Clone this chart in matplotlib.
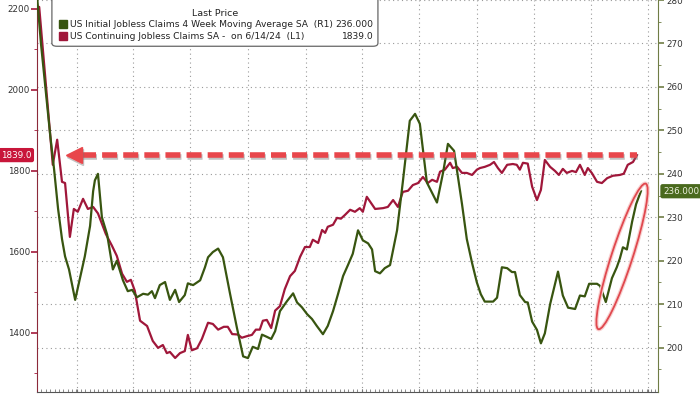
import numpy as np
import pandas as pd
import matplotlib
matplotlib.use('Agg')
import matplotlib.pyplot as plt
import matplotlib.dates as mdates
import matplotlib.transforms as mtransforms
import matplotlib.patheffects as pe
from matplotlib.patches import Ellipse, FancyBboxPatch

# Datos (semanas desde el inicio, valores)
start = pd.Timestamp('2021-10-29')

cont_wk = [0, 0.5, 3.6, 4.6, 5.7, 6.4, 7.5, 8.4, 9.3, 10.5, 11.6, 12.8, 13.9, 15.7, 17.1,
           18.2, 19.4, 20.5, 21.4, 22.3, 23.5, 25.1, 26.4, 27.6, 28.7, 29.6, 30.3, 31.5, 32.6, 33.7,
           34.4, 35.3, 36.5, 37.6, 39.0, 40.1, 41.3, 42.6, 43.5, 44.5, 45.8, 46.7, 47.9, 49.0, 49.9,
           50.8, 51.5, 52.4, 53.4, 54.3, 55.4, 56.5, 57.7, 58.8, 60.0, 61.1, 62.2, 62.9, 64.1, 65.0,
           65.7, 66.3, 67.5, 68.4, 69.3, 70.2, 71.4, 72.5, 73.6, 74.3, 75.2, 77.1, 78.9, 80.0, 81.2,
           82.3, 83.4, 84.6, 85.7, 86.9, 88.0, 89.1, 90.1, 91.2, 91.9, 93.0, 94.2, 94.8, 95.8, 96.9,
           98.0, 99.2, 100.3, 101.0, 102.1, 103.3, 104.2, 105.1, 106.0, 107.2, 108.5, 109.4, 110.1, 110.8, 111.9,
           112.9, 114.0, 114.9, 115.8, 117.0, 118.1, 119.0, 119.9, 120.8, 122.0, 122.9, 123.8, 124.9, 125.6, 126.5,
           127.7, 128.8, 130.0, 131.3, 132.9, 133.8, 134.7, 135.9, 136.8]
cont_val = [2193, 2205, 1815, 1877, 1773, 1770, 1637, 1706, 1699, 1731, 1706, 1711, 1695, 1644, 1615,
            1590, 1546, 1526, 1531, 1504, 1430, 1417, 1380, 1363, 1370, 1350, 1353, 1338, 1350, 1355,
            1395, 1357, 1362, 1385, 1425, 1422, 1408, 1415, 1415, 1397, 1396, 1388, 1392, 1395, 1408,
            1408, 1430, 1432, 1412, 1455, 1466, 1508, 1540, 1553, 1588, 1612, 1612, 1630, 1622, 1654,
            1647, 1662, 1667, 1684, 1682, 1691, 1704, 1699, 1708, 1699, 1736, 1706, 1708, 1711, 1728,
            1711, 1748, 1751, 1765, 1770, 1785, 1770, 1778, 1773, 1798, 1803, 1820, 1807, 1810, 1795,
            1795, 1790, 1803, 1807, 1810, 1815, 1822, 1807, 1795, 1815, 1817, 1815, 1803, 1820, 1818,
            1761, 1728, 1753, 1827, 1810, 1800, 1790, 1805, 1795, 1800, 1797, 1815, 1790, 1807, 1795,
            1773, 1770, 1782, 1788, 1790, 1793, 1815, 1822, 1839]

init_wk = [0, 0.9, 2.1, 3.0, 3.9, 4.8, 5.7, 6.4, 7.3, 8.7, 9.8, 10.9, 12.1, 12.8, 13.2,
           13.9, 14.8, 16.0, 17.3, 18.2, 19.6, 20.7, 21.7, 22.8, 24.2, 25.3, 26.2, 26.9, 28.0, 29.2,
           30.3, 31.5, 32.4, 33.7, 34.4, 35.6, 37.2, 38.3, 39.0, 40.1, 41.3, 42.4, 44.0, 45.6, 47.0,
           48.1, 49.2, 50.4, 51.3, 52.4, 53.4, 54.3, 55.4, 57.0, 58.4, 59.3, 60.4, 61.6, 62.7, 63.8,
           65.2, 66.3, 67.5, 68.6, 69.8, 70.9, 72.0, 73.2, 74.3, 75.5, 76.4, 77.1, 78.2, 79.3, 80.5,
           82.1, 83.4, 85.0, 86.2, 87.3, 88.9, 91.2, 92.6, 93.7, 95.1, 96.9, 98.0, 99.2, 100.3, 101.2,
           102.1, 104.0, 104.9, 106.0, 107.2, 108.3, 109.0, 110.1, 111.3, 111.9, 112.9, 114.0, 114.9, 115.8, 117.0,
           118.8, 119.9, 121.1, 122.7, 123.8, 124.9, 125.9, 127.7, 128.4, 129.7, 131.1, 132.2, 132.9, 133.6, 134.5,
           135.7, 136.6, 137.7]
init_val = [281, 270, 258, 249, 241, 232, 225, 221, 218, 211, 216, 221, 228, 236, 238.5,
            240, 230, 226, 218, 220, 215.5, 213, 213.3, 211.6, 212.4, 212.2, 213, 211.4, 214.4, 215.1,
            211, 213.3, 210.5, 212.1, 214.8, 214.4, 215.5, 218.5, 220.8, 222, 222.8, 220.8, 212.5, 204.5, 198,
            197.6, 200.2, 199.7, 203, 202.5, 202, 203.8, 208.4, 210.7, 212.5, 210.4, 209.3, 207.7, 206.6, 205,
            203.1, 205, 208.4, 212.2, 216.5, 219, 221.6, 227, 224.7, 224, 222.6, 217.6, 217.1, 218.3, 219,
            227, 238, 252.2, 253.8, 251.5, 238, 233.4, 240.3, 246.9, 245.3, 233.1, 225, 219.5, 215, 212.3,
            210.6, 210.6, 211.5, 218.5, 218.3, 217.4, 217.4, 212.1, 210.5, 210.4, 206, 204.1, 201, 203.3, 210,
            217.5, 212, 209.2, 208.9, 212, 211.8, 214.7, 214.7, 214.2, 210.5, 216, 218.5, 220.5, 223.1, 222.6,
            229, 233, 236]

cont_last = 1839.0
init_last = 236.0
init_label = 'US Initial Jobless Claims 4 Week Moving Average SA  (R1)'
cont_label = 'US Continuing Jobless Claims SA -  on 6/14/24  (L1)'
left_ticks = [1400, 1600, 1800, 2000, 2200]
right_ticks = [200, 210, 220, 230, 240, 250, 260, 270, 280]

RED = '#a0173a'
GREEN = '#385510'
ARROW = '#e8464b'
GRID = '#9a9a9a'


def to_dates(weeks):
    return start + pd.to_timedelta(np.array(weeks) * 7, unit='D')


fig = plt.figure(figsize=(7, 3.94), dpi=100)
ax = fig.add_axes([37 / 700, 2 / 394, 621 / 700, 392 / 394])
ax2 = ax.twinx()

ax.set_xlim(start, start + pd.Timedelta(days=141.6 * 7))
ax.set_ylim(1254, 2222)
ax2.set_ylim(189.8, 280)

# Cuadricula punteada (en el eje de abajo para que quede detras de las lineas)
ax.xaxis.set_major_locator(mdates.MonthLocator(bymonth=[1, 4, 7, 10]))
ax.xaxis.set_minor_locator(mdates.WeekdayLocator(byweekday=4))
ax.grid(axis='x', color=GRID, linestyle=(0, (1, 3)), linewidth=0.8)
hline_tr = mtransforms.blended_transform_factory(ax.transAxes, ax2.transData)
for v in right_ticks:
    ax.plot([0, 1], [v, v], transform=hline_tr, color=GRID, linestyle=(0, (1, 3)),
            linewidth=0.8, zorder=0.5)

# Series
ax.plot(to_dates(cont_wk), cont_val, color=RED, linewidth=1.6, zorder=2)
ax2.plot(to_dates(init_wk), init_val, color=GREEN, linewidth=1.6, zorder=2)

# Flecha punteada al ultimo valor
shadow = [pe.SimpleLineShadow(offset=(1, -1.5), shadow_color='#777777', alpha=0.45), pe.Normal()]
ax2.plot(to_dates([10.0, cont_wk[-1]]), [cont_last, cont_last], transform=ax.transData,
         color=ARROW, linewidth=4, dashes=(2.7, 1.1), solid_capstyle='butt',
         dash_capstyle='butt', path_effects=shadow, zorder=5)
ax2.plot(to_dates([8.4]), [cont_last], transform=ax.transData, marker='<', markersize=11.5,
         color=ARROW, linestyle='none', path_effects=shadow, zorder=5)

# Elipse alrededor del final de la serie verde
cx = mdates.date2num(to_dates([133.4])[0])
ell_tr = fig.dpi_scale_trans + mtransforms.ScaledTranslation(cx, 221.0, ax2.transData)
ell = Ellipse((0, 0), 1.53, 0.21, angle=72, transform=ell_tr, fill=False,
              edgecolor='#e0484e', linewidth=1.3, zorder=6,
              path_effects=[pe.Stroke(linewidth=3.0, foreground='#f8d0d0'), pe.Normal()])
ax2.add_artist(ell)

# Ejes
for a in (ax, ax2):
    a.spines['top'].set_visible(False)
ax.spines['right'].set_visible(False)
ax2.spines['left'].set_visible(False)
ax2.spines['bottom'].set_visible(False)
ax.spines['left'].set_color('#8c2a3a')
ax2.spines['right'].set_color('#6f7d45')
ax.spines['bottom'].set_color('#555555')

ax.set_yticks(left_ticks)
ax.set_yticks([1300, 1500, 1700, 1900, 2100], minor=True)
ax.tick_params(axis='y', which='major', direction='out', length=4, width=1.2,
               color='#a3193b', labelsize=6.3, labelcolor='#333333', pad=1)
ax.tick_params(axis='y', which='minor', direction='out', length=2, color='#a3193b')
ax.tick_params(axis='x', which='both', labelbottom=False, direction='in', length=2,
               color='#777777')

ax2.set_yticks(right_ticks)
ax2.set_yticks([195, 205, 215, 225, 235, 245, 255, 265, 275], minor=True)
ax2.tick_params(axis='y', which='major', direction='out', length=4, width=1.2,
                color='#6f7d45', labelsize=6.3, labelcolor='#333333', pad=2)
ax2.tick_params(axis='y', which='minor', direction='out', length=2, color='#6f7d45')

# Etiquetas del ultimo valor
left_tr = mtransforms.blended_transform_factory(ax.transAxes, ax.transData)
ax.text(-0.009, cont_last, f'{cont_last:.1f}', transform=left_tr, ha='right', va='center',
        fontsize=6.3, color='white', clip_on=False, zorder=10,
        bbox=dict(boxstyle='round,pad=0.3,rounding_size=0.25', fc='#c8163a', ec='none'))
right_tr = mtransforms.blended_transform_factory(ax2.transAxes, ax2.transData)
ax2.text(1.008, init_last, f'{init_last:.3f}', transform=right_tr, ha='left', va='center',
         fontsize=6.3, color='#eef2e0', clip_on=False, zorder=10,
         bbox=dict(boxstyle='round,pad=0.3,rounding_size=0.25', fc='#4a6a1e', ec='none'))

# Leyenda
box = FancyBboxPatch((0.024, 0.882), 0.525, 0.14, boxstyle='round,pad=0,rounding_size=0.008',
                     transform=ax2.transAxes, facecolor='white', edgecolor='#666666',
                     linewidth=0.9, clip_on=False, zorder=8)
ax2.add_patch(box)
ax2.text(0.287, 0.966, 'Last Price', transform=ax2.transAxes, ha='center', va='center',
         fontsize=6.8, color='#222222', zorder=9)
rows = [(init_label, f'{init_last:.3f}', GREEN, 0.938), (cont_label, f'{cont_last:.1f}', RED, 0.908)]
for label, value, col, yy in rows:
    ax2.plot([0.0415], [yy], transform=ax2.transAxes, marker='s', markersize=5.5, color=col,
             linestyle='none', clip_on=False, zorder=9)
    ax2.text(0.053, yy, label, transform=ax2.transAxes, ha='left', va='center',
             fontsize=6.6, color='#222222', zorder=9)
    ax2.text(0.542, yy, value, transform=ax2.transAxes, ha='right', va='center',
             fontsize=6.6, color='#222222', zorder=9)

fig.savefig('out.png', dpi=100)
